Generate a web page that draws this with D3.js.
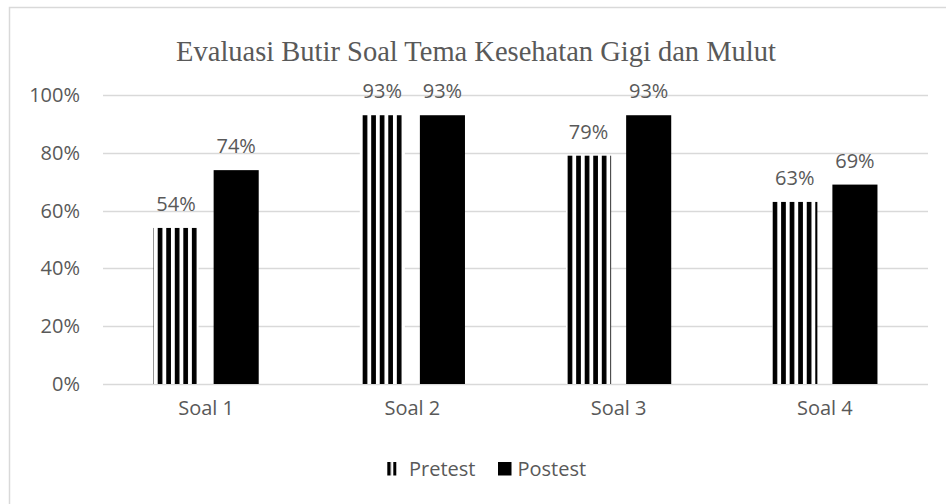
<!DOCTYPE html>
<html>
<head>
<meta charset="utf-8">
<script src="https://cdn.jsdelivr.net/npm/d3@7"></script>
<style>
  body { margin: 0; background: #fff; }
  svg { display: block; }
</style>
</head>
<body>
<div id="chart"></div>
<script>
// Data
const categories = ["Soal 1", "Soal 2", "Soal 3", "Soal 4"];
const seriesNames = ["Pretest", "Postest"];
const pretest = [0.54, 0.93, 0.79, 0.63];
const postest = [0.74, 0.93, 0.93, 0.69];
const yTicks = [0, 0.2, 0.4, 0.6, 0.8, 1.0];
const title = "Evaluasi Butir Soal Tema Kesehatan Gigi dan Mulut";

const width = 946, height = 504;
const plot = { left: 103, right: 928, top: 95, bottom: 384 };
const textColor = "#595959";
const gridColor = "#d9d9d9";
const sans = "'Open Sans', sans-serif";

const svg = d3.select("#chart").append("svg")
    .attr("width", width)
    .attr("height", height);

// vertical stripe patterns, both anchored to the page
const defs = svg.append("defs");
const stripes = defs.append("pattern")
    .attr("id", "stripes")
    .attr("patternUnits", "userSpaceOnUse")
    .attr("x", 3.98).attr("y", 0)
    .attr("width", 8.54).attr("height", 10);
stripes.append("rect").attr("width", 8.54).attr("height", 10).attr("fill", "#fff");
stripes.append("rect").attr("width", 4.7).attr("height", 10).attr("fill", "#000");

const legendStripes = defs.append("pattern")
    .attr("id", "legendStripes")
    .attr("patternUnits", "userSpaceOnUse")
    .attr("x", 387.3).attr("y", 0)
    .attr("width", 6).attr("height", 10);
legendStripes.append("rect").attr("width", 6).attr("height", 10).attr("fill", "#fff");
legendStripes.append("rect").attr("width", 3.4).attr("height", 10).attr("fill", "#000");

const fills = { Pretest: "url(#stripes)", Postest: "#000" };

// chart frame
svg.append("rect")
    .attr("x", 9.5).attr("y", 7.5)
    .attr("width", 960).attr("height", 520)
    .attr("fill", "#fff")
    .attr("stroke", gridColor)
    .attr("stroke-width", 1.5);

// scales
const x0 = d3.scaleBand()
    .domain(categories)
    .range([plot.left, plot.right])
    .paddingInner(0.49)
    .paddingOuter(0.245);

const x1 = d3.scaleBand()
    .domain(seriesNames)
    .range([0, x0.bandwidth()])
    .paddingInner(0.25);

const y = d3.scaleLinear()
    .domain([0, 1])
    .range([plot.bottom, plot.top]);

// grid lines
svg.append("g")
    .selectAll("line")
    .data(yTicks)
    .enter()
    .append("line")
    .attr("x1", plot.left).attr("x2", plot.right)
    .attr("y1", d => Math.round(y(d)) + 0.5)
    .attr("y2", d => Math.round(y(d)) + 0.5)
    .attr("stroke", gridColor)
    .attr("stroke-width", d => d === 0 ? 1.6 : 1.3);

// y axis labels
const yAxis = svg.append("g")
    .attr("transform", "translate(" + 80 + ",0)")
    .call(d3.axisLeft(y).tickValues(yTicks).tickFormat(d3.format(".0%")).tickSize(0).tickPadding(0));
yAxis.select(".domain").remove();
yAxis.selectAll("text")
    .attr("fill", textColor)
    .style("font-family", sans)
    .style("font-size", "20px");

// x axis labels
const xAxis = svg.append("g")
    .attr("transform", "translate(0," + plot.bottom + ")")
    .call(d3.axisBottom(x0).tickSize(0).tickPadding(17));
xAxis.select(".domain").remove();
xAxis.selectAll("text")
    .attr("fill", textColor)
    .style("font-family", sans)
    .style("font-size", "20px");

// flatten to one entry per bar
const bars = [];
categories.forEach((c, i) => {
    bars.push({ category: c, series: "Pretest", value: pretest[i] });
    bars.push({ category: c, series: "Postest", value: postest[i] });
});

// bars (no group transform, so the stripe pattern stays page-anchored)
svg.append("g")
    .selectAll("rect")
    .data(bars)
    .enter()
    .append("rect")
    .attr("x", d => x0(d.category) + x1(d.series))
    .attr("y", d => y(d.value))
    .attr("width", x1.bandwidth())
    .attr("height", d => y(0) - y(d.value))
    .attr("fill", d => fills[d.series]);

// value labels
svg.append("g")
    .selectAll("text")
    .data(bars)
    .enter()
    .append("text")
    .attr("x", d => x0(d.category) + x1(d.series) + x1.bandwidth() / 2)
    .attr("y", d => y(d.value) - 17)
    .attr("text-anchor", "middle")
    .attr("fill", textColor)
    .style("font-family", sans)
    .style("font-size", "20px")
    .text(d => d3.format(".0%")(d.value));

// title
svg.append("text")
    .attr("x", 476)
    .attr("y", 61)
    .attr("text-anchor", "middle")
    .attr("fill", textColor)
    .style("font-family", "'Liberation Serif', serif")
    .style("font-size", "28.5px")
    .text(title);

// legend
const legendX = { Pretest: 387, Postest: 498 };
const legend = svg.append("g");

legend.selectAll("rect")
    .data(seriesNames)
    .enter()
    .append("rect")
    .attr("x", d => legendX[d])
    .attr("y", 462)
    .attr("width", d => d === "Pretest" ? 9.5 : 13.5)
    .attr("height", 13.5)
    .attr("fill", d => d === "Pretest" ? "url(#legendStripes)" : "#000");

legend.selectAll("text")
    .data(seriesNames)
    .enter()
    .append("text")
    .attr("x", d => legendX[d] + (d === "Pretest" ? 22 : 19.5))
    .attr("y", 475.7)
    .attr("fill", textColor)
    .style("font-family", sans)
    .style("font-size", "20px")
    .text(d => d);
</script>
</body>
</html>
